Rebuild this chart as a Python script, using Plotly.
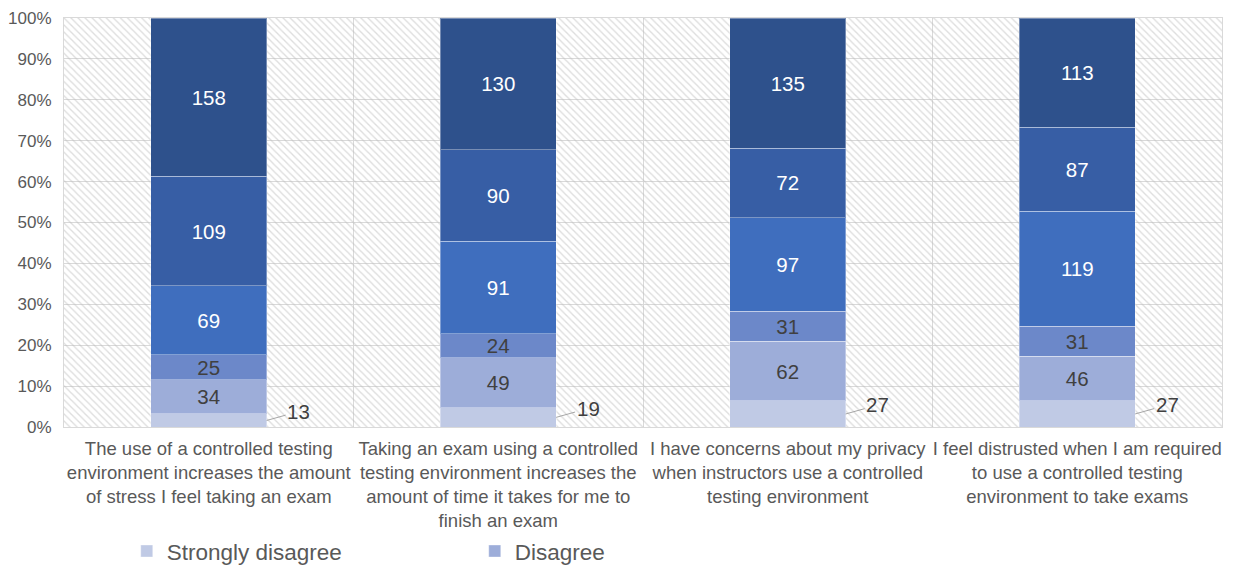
import plotly.graph_objects as go

categories = [
    "The use of a controlled testing<br>environment increases the amount<br>of stress I feel taking an exam",
    "Taking an exam using a controlled<br>testing environment increases the<br>amount of time it takes for me to<br>finish an exam",
    "I have concerns about my privacy<br>when instructors use a controlled<br>testing environment",
    "I feel distrusted when I am required<br>to use a controlled testing<br>environment to take exams",
]
series_names = ["Strongly disagree", "Disagree", "Somewhat disagree",
                "Somewhat agree", "Agree", "Strongly agree"]
strongly_disagree = [13, 19, 27, 27]
disagree = [34, 49, 62, 46]
somewhat_disagree = [25, 24, 31, 31]
somewhat_agree = [69, 91, 97, 119]
agree = [109, 90, 72, 87]
strongly_agree = [158, 130, 135, 113]
y_ticks = [i / 10 for i in range(11)]

series_values = [strongly_disagree, disagree, somewhat_disagree,
                 somewhat_agree, agree, strongly_agree]
colors = ["#C0CAE5", "#9DADD9", "#6C88C9", "#3F6EBE", "#375EA5", "#2E518C"]
text_colors = [None, "#404040", "#404040", "white", "white", "white"]

FONT = "Liberation Sans, Arial, sans-serif"
GRID = "#d9d9d9"

fig = go.Figure()

# hatched plot-area background on base axes
fig.add_trace(go.Scatter(
    x=[0, 4, 4, 0, 0], y=[0, 0, 1, 1, 0], mode="none", fill="toself",
    fillcolor="rgba(0,0,0,0)",
    fillpattern=dict(shape="\\", size=5, solidity=0.27, fgcolor="#bcbcbc",
                     bgcolor="rgba(0,0,0,0)"),
    hoverinfo="skip", showlegend=False, xaxis="x", yaxis="y"))

for i, (name, vals) in enumerate(zip(series_names, series_values)):
    fig.add_trace(go.Bar(
        name=name, x=list(range(len(categories))), y=vals,
        text=[str(v) for v in vals] if i > 0 else None,
        texttemplate="%{text}" if i > 0 else None,
        textposition="inside" if i > 0 else "none",
        insidetextanchor="middle", textangle=0, constraintext="none",
        insidetextfont=dict(size=20.5, color=text_colors[i] or "#404040", family=FONT),
        marker=dict(color=colors[i], line=dict(color="rgba(255,255,255,0.35)", width=1)),
        showlegend=(i < 2), xaxis="x2", yaxis="y2"))

# outside labels for the smallest segment with leader lines
totals = [sum(s[k] for s in series_values) for k in range(len(categories))]
for k, v in enumerate(strongly_disagree):
    fig.add_annotation(
        x=k + 0.2, y=v / totals[k] / 2, xref="x2", yref="y2",
        text=str(v), showarrow=True, arrowhead=0, arrowwidth=1,
        arrowcolor="#a6a6a6", ax=32, ay=-9, standoff=0,
        font=dict(size=20.5, color="#404040", family=FONT))

fig.update_layout(
    width=1250, height=569,
    margin=dict(l=56, r=36, t=10, b=150, autoexpand=False),
    paper_bgcolor="white", plot_bgcolor="white",
    barmode="stack", barnorm="fraction", bargap=0.6,
    font=dict(family=FONT, color="#595959"),
    xaxis=dict(range=[0, 4], tickvals=[0, 1, 2, 3, 4], showticklabels=False,
               showgrid=True, gridcolor=GRID, gridwidth=1, zeroline=False,
               showline=True, linecolor=GRID, mirror=True, ticks="",
               automargin=False),
    yaxis=dict(range=[0, 1], tickvals=y_ticks, tickformat=".0%",
               showgrid=True, gridcolor=GRID, gridwidth=1, zeroline=False,
               showline=True, linecolor=GRID, mirror=True, ticks="",
               ticklabelstandoff=8, ticklabeloverflow="allow",
               tickfont=dict(size=17, color="#595959"), automargin=False),
    xaxis2=dict(overlaying="x", type="linear", range=[-0.5, 3.5],
                tickvals=list(range(len(categories))), ticktext=categories,
                tickangle=0, showgrid=False, zeroline=False, showline=False,
                ticks="", side="bottom", automargin=False,
                ticklabelstandoff=8, ticklabeloverflow="allow",
                tickfont=dict(size=18.5, color="#595959")),
    yaxis2=dict(overlaying="y", range=[0, 1], showgrid=False, zeroline=False,
                showticklabels=False, showline=False, automargin=False),
    legend=dict(orientation="h", xref="container", yref="container",
                x=0.095, y=0.045, xanchor="left", yanchor="middle",
                entrywidth=303, font=dict(size=22.5, color="#595959"),
                traceorder="normal"),
)

fig.write_html("out.html")
